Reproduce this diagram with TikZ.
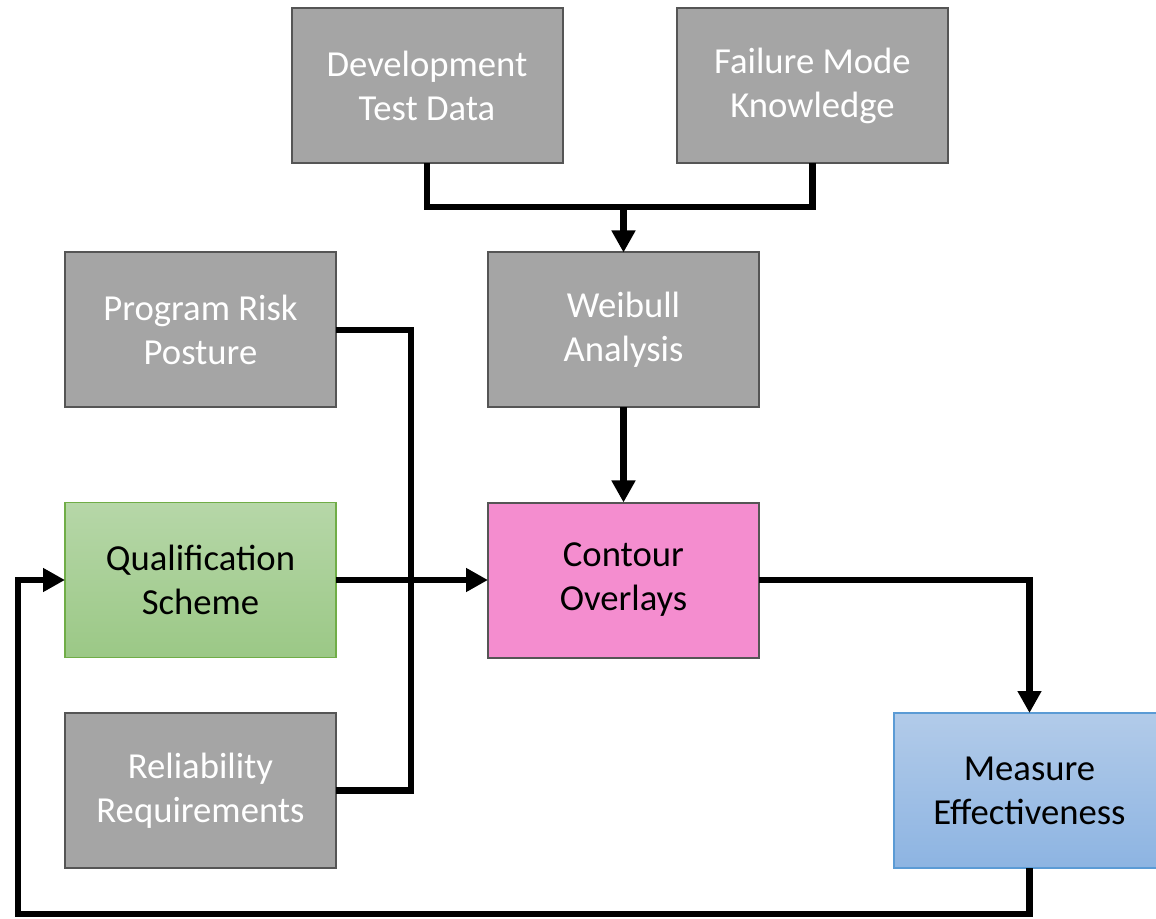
\documentclass[tikz,border=0pt]{standalone}
\usepackage{fontspec}
\setmainfont{Carlito}
\usetikzlibrary{arrows.meta,calc}
\definecolor{boxgray}{HTML}{A5A5A5}
\definecolor{edgegray}{HTML}{555555}
\definecolor{greentop}{HTML}{B6D7A8}
\definecolor{greenbot}{HTML}{9BC886}
\definecolor{greenedge}{HTML}{70AD47}
\definecolor{pinkfill}{HTML}{F48DCF}
\definecolor{bluetop}{HTML}{B2CBE9}
\definecolor{bluebot}{HTML}{8DB4E2}
\definecolor{blueedge}{HTML}{5B9BD5}
\tikzset{
  box/.style={rectangle, align=center, font=\fontsize{27.5}{33}\selectfont,
    minimum width=203.25pt, minimum height=116.25pt, inner sep=0pt, outer sep=0pt},
  graybox/.style={box, fill=boxgray, draw=edgegray, line width=1.5pt, text=white},
  greenbox/.style={box, top color=greentop, bottom color=greenbot, draw=greenedge, line width=0.8pt, text=black},
  pinkbox/.style={box, fill=pinkfill, draw=edgegray, line width=1.5pt, text=black},
  bluebox/.style={box, top color=bluetop, bottom color=bluebot, draw=blueedge, line width=0.8pt, text=black},
  link/.style={line width=5.2pt, black, line join=miter},
  arrowlink/.style={link, -{Triangle[length=16.5pt,width=17pt]}}
}
\begin{document}
\begin{tikzpicture}[x=0.75pt,y=-0.75pt]
  \useasboundingbox (0,0) rectangle (1156,919);
  \clip (0,0) rectangle (1156,919);

  % boxes
  \node[graybox] (dev) at (427,85.5) {Development\\Test Data};
  \node[graybox] (fail) at (812.5,85.5) {Failure Mode\\Knowledge};
  \node[graybox] (weib) at (623.5,330) {Weibull\\Analysis};
  \node[graybox] (risk) at (200.5,330) {Program Risk\\Posture};
  \node[greenbox] (qual) at (200.5,580) {Qualification\\Scheme};
  \node[pinkbox] (cont) at (623.5,580) {Contour\\Overlays};
  \node[graybox] (rel) at (200.5,790.5) {Reliability\\Requirements};
  \node[bluebox] (meas) at (1029.5,790.5) {Measure\\Effectiveness};

  % junction points of the connectors
  \coordinate (merge) at (623.5,207);
  \coordinate (riskbus) at (411,330);
  \coordinate (loopbot) at (18,914);

  % inputs feeding the Weibull analysis
  \draw[link] (dev.south) |- (merge) -| (fail.south);
  \draw[arrowlink] (merge) -- (weib.north);
  \draw[arrowlink] (weib.south) -- (cont.north);

  % risk posture and requirements bracket
  \draw[link] (risk.east) -- (riskbus) |- (rel.east);

  % main flow
  \draw[arrowlink] (qual.east) -- (cont.west);
  \draw[arrowlink] (cont.east) -| (meas.north);
  \draw[arrowlink] (meas.south) |- (loopbot) |- (qual.west);
\end{tikzpicture}
\end{document}
